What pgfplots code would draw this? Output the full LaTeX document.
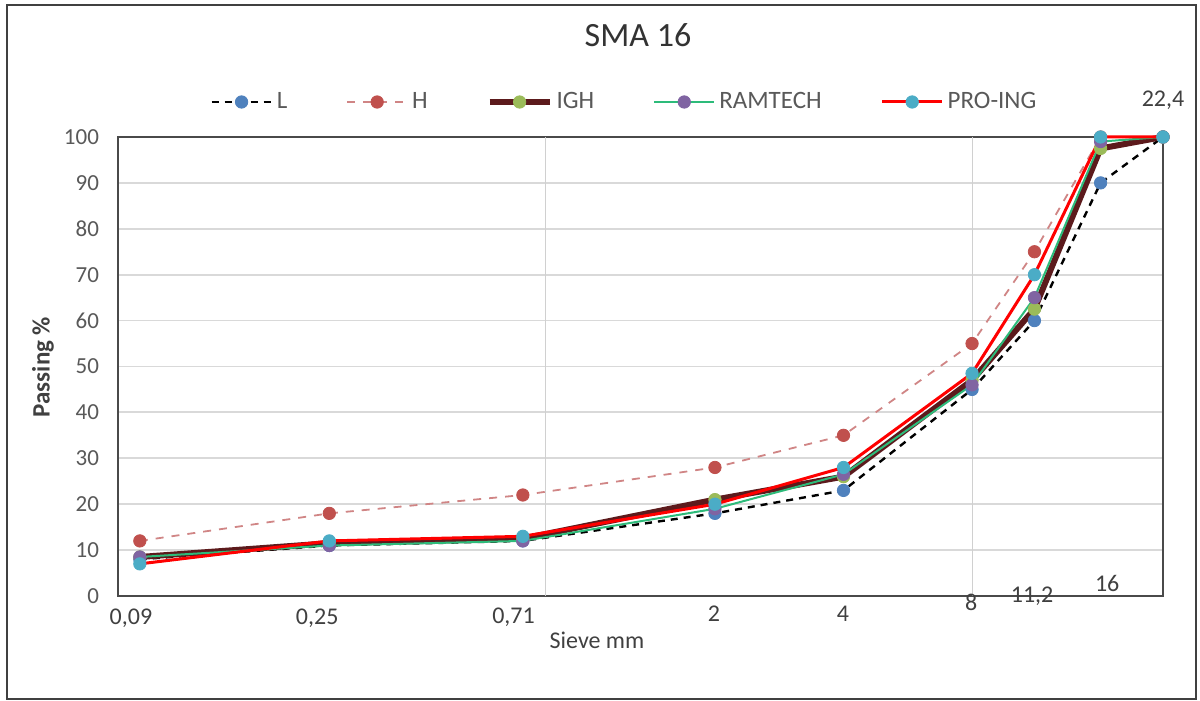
\documentclass[border=0pt]{standalone}
\usepackage{fontspec}
\setmainfont{Carlito}
\usepackage{pgfplots}
\pgfplotsset{compat=1.18}
\definecolor{framegray}{HTML}{404040}
\definecolor{titlegray}{HTML}{333333}
\definecolor{tickgray}{HTML}{595959}
\definecolor{labgray}{HTML}{404040}
\definecolor{gridgray}{HTML}{D9D9D9}
\definecolor{vgridgray}{HTML}{D0D0D0}
\definecolor{axisgray}{HTML}{4A4A4A}
\definecolor{mkblue}{HTML}{4F81BD}
\definecolor{mkred}{HTML}{C0504D}
\definecolor{hline}{HTML}{D08585}
\definecolor{mkgreen}{HTML}{9BBB59}
\definecolor{mkpurple}{HTML}{8064A2}
\definecolor{mkcyan}{HTML}{4BACC6}
\definecolor{ighline}{HTML}{5C1A1C}
\definecolor{ramline}{HTML}{2DBB7A}
\definecolor{proline}{HTML}{FF0000}
\begin{document}
\begin{tikzpicture}
\path[use as bounding box] (0,0) rectangle (600pt,350.5pt);
\draw[line width=1pt, color=framegray] (3.5pt,1pt) rectangle (598pt,348pt);
\node[font=\fontsize{17}{20}\selectfont, text=titlegray] at (319pt,333pt) {SMA 16};
\begin{axis}[
  at={(59pt,52.5pt)}, anchor=south west,
  scale only axis, width=522.5pt, height=229.5pt,
  xmode=log, xmin=0.08, xmax=22.4, ymin=0, ymax=100,
  ytick={0,10,...,100}, xtick=\empty,
  extra x ticks={0.8,8}, extra x tick labels={},
  extra x tick style={xmajorgrids=true, major grid style={line width=0.5pt, color=vgridgray}},
  ymajorgrids, grid style={line width=0.9pt, color=gridgray},
  major tick length=0pt,
  axis line style={line width=1.2pt, color=axisgray},
  tick label style={font=\fontsize{11.5}{13}\selectfont, text=tickgray},
  yticklabel style={xshift=-6pt},
  /pgf/number format/assume math mode=true,
  clip=false,
  legend columns=5,
  legend style={at={(0.088,1)}, anchor=west, yshift=17.5pt, draw=none, fill=none,
    inner sep=0pt, font=\fontsize{12.5}{14}\selectfont, text=tickgray,
    /tikz/every even column/.append style={column sep=27.5pt}},
  legend image code/.code={\draw[mark repeat=2,mark phase=2,#1] plot coordinates {(0pt,0pt) (15pt,0pt) (30pt,0pt)};},
  every axis plot/.append style={mark=*, mark size=3.1pt},
]
\addplot[color=black, line width=1.2pt, dash pattern=on 3.5pt off 3pt, mark options={solid, line width=0.4pt, fill=mkblue, draw=mkblue}]
  coordinates {(0.09,8) (0.25,11) (0.71,12) (2,18) (4,23) (8,45) (11.2,60) (16,90) (22.4,100)};
\addlegendentry{L}
\addplot[color=hline, line width=0.9pt, dash pattern=on 4pt off 4pt, mark options={solid, line width=0.4pt, fill=mkred, draw=mkred}]
  coordinates {(0.09,12) (0.25,18) (0.71,22) (2,28) (4,35) (8,55) (11.2,75) (16,100) (22.4,100)};
\addlegendentry{H}
\addplot[color=ighline, line width=3pt, mark options={solid, line width=0.4pt, fill=mkgreen, draw=mkgreen}]
  coordinates {(0.09,8.5) (0.25,11.5) (0.71,12.5) (2,21) (4,26) (8,47) (11.2,62.5) (16,97.5) (22.4,100)};
\addlegendentry{IGH}
\addplot[color=ramline, line width=1pt, mark options={solid, line width=0.4pt, fill=mkpurple, draw=mkpurple}]
  coordinates {(0.09,8.5) (0.25,11) (0.71,12) (2,19) (4,26.5) (8,46) (11.2,65) (16,99) (22.4,100)};
\addlegendentry{RAMTECH}
\addplot[color=proline, line width=1.5pt, mark options={solid, line width=0.4pt, fill=mkcyan, draw=mkcyan}]
  coordinates {(0.09,7) (0.25,12) (0.71,13) (2,20) (4,28) (8,48.5) (11.2,70) (16,100) (22.4,100)};
\addlegendentry{PRO-ING}
\begin{scope}[every node/.style={font=\fontsize{12}{14}\selectfont, text=labgray}]
\node at (axis cs:0.0858,-4.8) {0,09};
\node at (axis cs:0.2342,-4.8) {0,25};
\node at (axis cs:0.675,-4.6) {0,71};
\node at (axis cs:1.988,-3.9) {2};
\node at (axis cs:3.987,-3.9) {4};
\node at (axis cs:7.96,-1.3) {8};
\node at (axis cs:11.06,0) {11,2};
\node at (axis cs:16.58,2.8) {16};
\node at (axis cs:22.4,108.1) {22,4};
\end{scope}
\end{axis}
\node[rotate=90, font=\bfseries\fontsize{12.5}{14}\selectfont, text=labgray] at (21.5pt,167pt) {Passing \%};
\node[font=\fontsize{12}{14}\selectfont, text=labgray] at (298.5pt,30.5pt) {Sieve mm};
\end{tikzpicture}
\end{document}
